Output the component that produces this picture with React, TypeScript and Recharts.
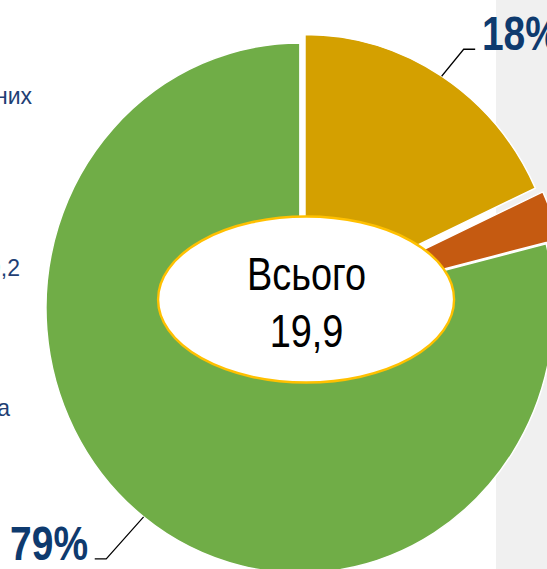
import { PieChart, Pie, Cell } from "recharts"

// структура надходжень, млрд грн
const CATEGORIES = ["Податкові надходження", "Неподаткові надходження", "Офіційні трансферти"]
const VALUES = [3.6, 0.6, 15.7]
const COLORS = ["#D4A000", "#C55A11", "#70AD47"]
const TOTAL_TITLE = "Всього"
// обрізані підписи легенди зліва
const LEGEND_TAILS = ["них", "9,2", "а"]

// оформлення
const EXPLODE = [10, 14, 0]
const LEADERS = [[23, -27], [0, 0], [-39, 42]]
const LEGEND_X = [33.4, 20.9, 10.4]
const LEGEND_Y = [104, 276, 416]
const SQUASH = 0.958
const W = 571
const H = 569
const CX = 313
const CY = 308
const R = 265
const FONT = '"Liberation Sans", Arial, sans-serif'
const LABEL_BLUE = "#0E3A6E"

const data = CATEGORIES.map((name, i) => ({ name, value: VALUES[i] }))
const total = VALUES.reduce((a, b) => a + b, 0)

function explodeOffset(i: number) {
    const before = VALUES.slice(0, i).reduce((a, b) => a + b, 0)
    const mid = ((90 - (360 * (before + VALUES[i] / 2)) / total) * Math.PI) / 180
    return [EXPLODE[i] * Math.cos(mid), -EXPLODE[i] * Math.sin(mid)]
}

// вузький шрифт імітуємо стисканням по горизонталі
function NarrowText({ x, y, k, anchor = "middle", children, ...rest }: any) {
    return (
        <text transform={`translate(${x},${y}) scale(${k},1)`} x={0} y={0} textAnchor={anchor} fontFamily={FONT} {...rest}>
            {children}
        </text>
    )
}

const renderLabel = (props: any) => {
    const { cx, cy, midAngle, outerRadius, percent, index } = props
    const [ldx, ldy] = LEADERS[index]
    if (!ldx && !ldy) return null
    const rad = (midAngle * Math.PI) / 180
    const d = outerRadius + EXPLODE[index]
    const x0 = cx + d * Math.cos(rad)
    const y0 = cy - d * Math.sin(rad)
    const x1 = x0 + ldx
    const y1 = y0 + ldy
    const right = ldx > 0
    const x2 = x1 + (right ? 12 : -12)
    return (
        <g key={`lbl-${index}`}>
            <polyline points={`${x0},${y0} ${x1},${y1} ${x2},${y1}`} fill="none" stroke="#000" strokeWidth={1.3} />
            <NarrowText
                x={x2 + (right ? 7 : -7)}
                y={y1 + 1}
                k={0.83}
                anchor={right ? "start" : "end"}
                fill={LABEL_BLUE}
                fontSize={49}
                fontWeight="bold"
            >
                {`${Math.round(percent * 100)}%`}
            </NarrowText>
        </g>
    )
}

export default function App() {
    return (
        <div
            style={{
                position: "absolute",
                left: 0,
                top: 0,
                width: 547,
                height: 569,
                overflow: "hidden",
                background: "linear-gradient(to right, #ffffff 496px, #f0f0f0 496px)",
            }}
        >
            <div style={{ position: "relative", width: W, height: H, transform: `scaleX(${SQUASH})`, transformOrigin: "0 0" }}>
                <PieChart width={W} height={H} margin={{ top: 0, right: 0, bottom: 0, left: 0 }}>
                    {LEGEND_TAILS.map((t, i) => (
                        <text key={t} x={LEGEND_X[i]} y={LEGEND_Y[i]} textAnchor="end" fill="#1F3F75" fontSize={24} fontFamily={FONT}>
                            {t}
                        </text>
                    ))}
                    <Pie
                        data={data}
                        dataKey="value"
                        nameKey="name"
                        cx={CX}
                        cy={CY}
                        innerRadius={65}
                        outerRadius={R}
                        startAngle={90}
                        endAngle={-270}
                        stroke="#fff"
                        strokeWidth={1.5}
                        label={renderLabel}
                        labelLine={false}
                        isAnimationActive={false}
                    >
                        {data.map((_, i) => {
                            const [dx, dy] = explodeOffset(i)
                            return <Cell key={i} fill={COLORS[i]} transform={`translate(${dx},${dy})`} />
                        })}
                    </Pie>
                </PieChart>
                {/* центральний овал з підсумком поверх кільця */}
                <svg width={W} height={H} style={{ position: "absolute", left: 0, top: 0, pointerEvents: "none" }}>
                    <ellipse cx={CX + 6.5} cy={CY - 8.5} rx={154.5} ry={83} fill="#fff" stroke="#FFC000" strokeWidth={2.5} />
                    <NarrowText x={CX + 7} y={289.5} k={0.86} fontSize={46} fill="#000">
                        {TOTAL_TITLE}
                    </NarrowText>
                    <NarrowText x={CX + 7} y={346.5} k={0.86} fontSize={46} fill="#000">
                        {total.toFixed(1).replace(".", ",")}
                    </NarrowText>
                </svg>
            </div>
        </div>
    )
}
